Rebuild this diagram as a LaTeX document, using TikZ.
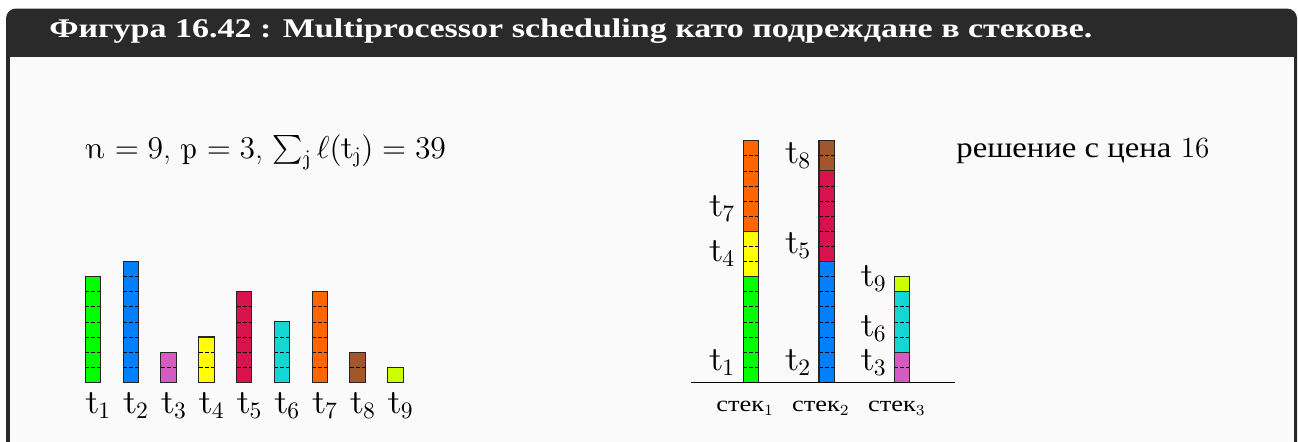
\RequirePackage{fix-cm}
\documentclass[tikz,border=0pt]{standalone}
\usepackage{amsmath}
\usepackage{fontspec}
\newfontfamily\cyr[FakeStretch=1.12]{Liberation Serif}
\newfontfamily\cyrw[FakeStretch=1.2]{Liberation Serif}
\newfontfamily\titlefont[FakeStretch=1.26]{Liberation Serif}
\DeclareMathAlphabet{\mathui}{OT1}{cmr}{m}{ui}
\definecolor{cA}{HTML}{00FF00}
\definecolor{cB}{HTML}{0080FF}
\definecolor{cC}{HTML}{D35CC0}
\definecolor{cD}{HTML}{FFFF00}
\definecolor{cE}{HTML}{D8124C}
\definecolor{cF}{HTML}{14D6D3}
\definecolor{cG}{HTML}{FF6600}
\definecolor{cH}{HTML}{A0572C}
\definecolor{cI}{HTML}{CCFF00}
\definecolor{framegray}{HTML}{2A2A2A}
\definecolor{bodybg}{HTML}{FAFAFA}
\newcommand\un{15.1}
\newcommand\barw{15.4}
\newcommand\taskseg[5]{% #1 x-left, #2 start, #3 length, #4 colour, #5 base y
  \fill[#4] (#1,{#5-(#2)*\un}) rectangle ({#1+\barw},{#5-(#2+#3)*\un});
  \ifnum#3>1
    \pgfmathtruncatemacro\lastk{#3-1}
    \foreach \k in {1,...,\lastk} \draw[dashline] (#1,{#5-(#2+\k)*\un}) -- ++(\barw,0);
  \fi
  \draw[segborder] (#1,{#5-(#2)*\un}) rectangle ({#1+\barw},{#5-(#2+#3)*\un});
}
\begin{document}
\begin{tikzpicture}[x=0.5pt,y=-0.5pt,
  dashline/.style={black,line width=0.4pt,dash pattern=on 2pt off 1pt},
  segborder/.style={black!85,line width=0.55pt},
  tlabel/.style={inner sep=0pt,font=\fontsize{16.8}{19}\selectfont},
  stklabel/.style={inner sep=0pt,font=\fontsize{11}{13}\selectfont}]
\useasboundingbox (0,0) rectangle (1298,441);
\fill[white] (0,0) rectangle (1298,441);
% frame
\fill[framegray,rounded corners=5pt] (6,8.5) rectangle (1297,455);
\fill[bodybg] (9.5,57) rectangle (1293.5,448);
\node[anchor=base west,inner sep=0pt,text=white,font=\titlefont\bfseries\fontsize{13.5}{16}\selectfont] (title) at (49,37)
  {Фигура 16.42 : Multiprocessor scheduling като подреждане в стекове.};
% formula
\node[anchor=base west,inner sep=0pt,font=\fontsize{15.8}{19}\selectfont] (formula) at (85,158)
  {$\mathui{n}=9$, $\mathui{p}=3$, $\sum_{\mathui{j}}\ell(\mathui{t}_{\mathui{j}})=39$};
\node[anchor=base west,inner sep=0pt,font=\fontsize{14.6}{17}\selectfont] (cost) at (956,157)
  {{\cyr решение с цена} 16};
% left bars
\foreach \i/\L/\c in {1/7/cA,2/8/cB,3/2/cC,4/3/cD,5/6/cE,6/4/cF,7/6/cG,8/2/cH,9/1/cI}{
  \pgfmathsetmacro\xx{85.3+37.8*(\i-1)}
  \taskseg{\xx}{0}{\L}{\c}{382.3}
  \node[tlabel,anchor=base west] (l\i) at ({\xx+0.6},413) {$\mathui{t}_{\i}$};
}
% stacks
\taskseg{743.3}{0}{7}{cA}{382.3}
\taskseg{743.3}{7}{3}{cD}{382.3}
\taskseg{743.3}{10}{6}{cG}{382.3}
\taskseg{819}{0}{8}{cB}{382.3}
\taskseg{819}{8}{6}{cE}{382.3}
\taskseg{819}{14}{2}{cH}{382.3}
\taskseg{894.3}{0}{2}{cC}{382.3}
\taskseg{894.3}{2}{4}{cF}{382.3}
\taskseg{894.3}{6}{1}{cI}{382.3}
\coordinate (bl) at (691,382.3);
\coordinate (br) at (955,382.3);
\draw[line width=0.6pt] (bl) -- (br);
\node[tlabel,anchor=base east] (s1) at (735.5,370) {$\mathui{t}_1$};
\node[tlabel,anchor=base east] (s4) at (735.5,261.7) {$\mathui{t}_4$};
\node[tlabel,anchor=base east] (s7) at (735.5,216) {$\mathui{t}_7$};
\node[tlabel,anchor=base east] (s2) at (811.5,370) {$\mathui{t}_2$};
\node[tlabel,anchor=base east] (s5) at (811.5,253.3) {$\mathui{t}_5$};
\node[tlabel,anchor=base east] (s8) at (811.5,163.3) {$\mathui{t}_8$};
\node[tlabel,anchor=base east] (s3) at (887,370) {$\mathui{t}_3$};
\node[tlabel,anchor=base east] (s6) at (887,336.7) {$\mathui{t}_6$};
\node[tlabel,anchor=base east] (s9) at (887,286.7) {$\mathui{t}_9$};
\node[stklabel,anchor=base west] (k1) at (716,411.7) {{\cyrw стек}$_1$};
\node[stklabel,anchor=base west] (k2) at (791.7,411.7) {{\cyrw стек}$_2$};
\node[stklabel,anchor=base west] (k3) at (867.7,411.7) {{\cyrw стек}$_3$};
\end{tikzpicture}
\end{document}
